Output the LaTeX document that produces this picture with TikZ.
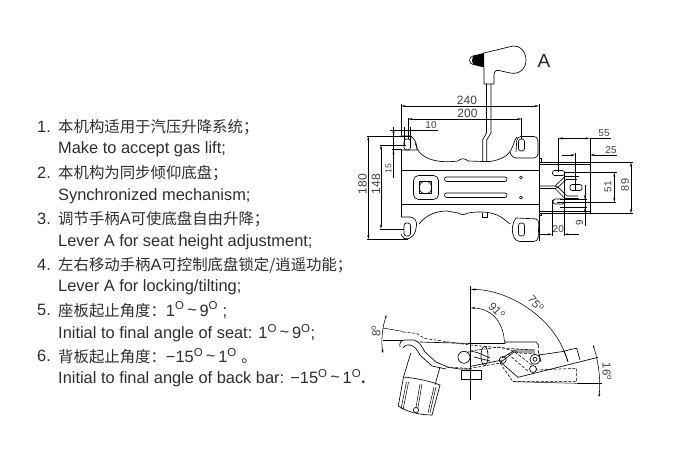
\documentclass[tikz,border=0pt]{standalone}
\usepackage{fontspec}
\setmainfont{Liberation Sans}
\newfontfamily\cjkf{Noto Sans CJK SC}
\usetikzlibrary{arrows.meta}
\newcommand{\zh}[1]{{\cjkf\fontsize{15.4}{17}\selectfont #1}}
\newcommand{\dgr}{\textsuperscript{O}}
\newcommand{\tld}{\,\raisebox{1pt}{\textasciitilde}\,}
\tikzset{
  body/.style={draw=black,line width=0.65pt},
  thin line/.style={draw=black,line width=0.5pt},
  dashline/.style={draw=black,line width=0.55pt,dash pattern=on 3pt off 1.6pt},
  dimline/.style={draw=black,line width=0.55pt,{Stealth[length=4.5pt,width=2pt]}-{Stealth[length=4.5pt,width=2pt]}},
  dimone/.style={draw=black,line width=0.55pt,-{Stealth[length=4.5pt,width=2pt]}},
  txt/.style={anchor=west,inner sep=0pt,text=black!82,font=\fontsize{16.4}{18}\selectfont},
  dimtxt/.style={inner sep=0pt,text=black!75,font=\fontsize{10}{12}\selectfont},
  bigdim/.style={inner sep=0pt,text=black!75,font=\fontsize{12}{14}\selectfont},
  angtxt/.style={inner sep=0pt,text=black!75,font=\fontsize{11.5}{13}\selectfont},
  slot/.style={draw=black,line width=0.65pt,rounded corners=2.2pt}
}
\begin{document}
\begin{tikzpicture}[x=1pt,y=-1pt]
\useasboundingbox (0,0) rectangle (675,454);
% ---------- text list
\node[txt] (n1) at (37,127) {1.};
\node[txt] (t1) at (58,127) {\zh{本机构适用于汽压升降系统；}};
\node[txt] (e1) at (58,149) {Make to accept gas lift;};
\node[txt] (n2) at (37,173) {2.};
\node[txt] (t2) at (58,173) {\zh{本机构为同步倾仰底盘；}};
\node[txt] (e2) at (58,196) {Synchronized mechanism;};
\node[txt] (n3) at (37,219) {3.};
\node[txt] (t3) at (58,219) {\zh{调节手柄}A\zh{可使底盘自由升降；}};
\node[txt] (e3) at (58,242) {Lever A for seat height adjustment;};
\node[txt] (n4) at (37,265) {4.};
\node[txt] (t4) at (58,265) {\zh{左右移动手柄}A\zh{可控制底盘锁定/逍遥功能；}};
\node[txt] (e4) at (58,287) {Lever A for locking/tilting;};
\node[txt] (n5) at (37,310) {5.};
\node[txt] (t5) at (58,310) {\zh{座板起止角度：}1\dgr\tld 9\dgr\ ;};
\node[txt] (e5) at (58,333) {Initial to final angle of seat: 1\dgr\tld 9\dgr;};
\node[txt] (n6) at (37,356) {6.};
\node[txt] (t6) at (58,356) {\zh{背板起止角度：}−15\dgr\tld 1\dgr\ \zh{。}};
\node[txt] (e6) at (58,378) {Initial to final angle of back bar: −15\dgr\tld 1\dgr\textbf{.}};
% ---------- handle
\fill[black] (484,53) -- (474,55.5) .. controls (471.5,58) and (471.5,63) .. (474,65) -- (484,67.5) -- cycle;
\draw[body] (474,55.5) .. controls (468,56.5) and (468,64) .. (474,65);
\draw[body] (484,67.5) -- (484,84) -- (494,84) -- (494,75) .. controls (494,71) and (496,70) .. (499,70.5)
  -- (510,73) .. controls (520,75) and (526,68) .. (526,60) .. controls (526,51) and (519,45) .. (513,46) -- (484,53);
\draw[body] (486.5,84) -- (486.5,133) -- (482.7,140) -- (482.7,162);
\draw[body] (491,84) -- (491,133) -- (486.7,140) -- (486.7,161);
\node[inner sep=0pt,text=black!85,font=\fontsize{19}{21}\selectfont] (A) at (544,61) {A};
% ---------- plan view plate
\draw[body] (401,149) -- (401,217);
\draw[body] (401,170) -- (539,170);
\draw[body] (401,204) -- (539,204);
\draw[body] (539,104) -- (539,136);
\draw[body] (539,136) -- (539,241);
% top-left ear and wing
\draw[body] (401,136) -- (410,136) .. controls (415,138) and (417,144) .. (417,150) -- (401,150);
\draw[body] (415,143) .. controls (417,148) and (418,151) .. (420,153) .. controls (428,161) and (442,163) .. (458,161)
  .. controls (461,158) and (465,158) .. (468,161) -- (482.7,161.5) -- (490,161.5) .. controls (500,160) and (508,156) .. (511,150) .. controls (514,145) and (514,140) .. (517,137);
\draw[body,rounded corners=4pt] (516,152) -- (517,136.5) -- (538,136.5) -- (538,158) -- (512,158) -- (510,152);
% bottom-left ear and wing
\draw[body,rounded corners=3pt] (401,217) -- (413,217) -- (417,222) -- (415,234) -- (408,239.5) -- (403,238) -- (401,234);
\draw[body] (419,224) .. controls (426,215) and (436,211) .. (447,211) -- (458,213) .. controls (461,215) and (465,215) .. (468,213) .. controls (480,211) and (495,211) .. (505,220) -- (510,224);
\draw[body] (482,213) -- (482,217.5) -- (487.5,217.5) -- (487.5,212);
\draw[body,rounded corners=4pt] (516,218) -- (513,222) -- (512,233) -- (516,241.5) -- (538,241.5) -- (539,219) -- (516,218);
% slots
\draw[slot,rounded corners=2.5pt] (404,139) rectangle (410.5,150);
\draw[slot,rounded corners=2.5pt] (404,223) rectangle (410.5,236);
\draw[slot,rounded corners=2.5pt] (518.5,139) rectangle (524.5,151);
\draw[slot,rounded corners=2.5pt] (518.5,223) rectangle (524.5,236);
% square
\draw[body,rounded corners=5pt] (413.5,175.5) rectangle (438.5,199.5);
\draw[body] (419.5,181.5) rectangle (431.5,193.5);
\draw[body] (425.5,187.5) circle[radius=6.3];
\draw[slot] (444.5,177) rectangle (507,181.5);
\draw[slot] (444.5,193) rectangle (507,197.5);
\draw[body] (521,177.5) circle[radius=1.5];
\draw[body] (521,197.5) circle[radius=1.5];
% right end
\draw[body] (539,158) -- (541,158) -- (541,162);
\draw[body] (539,213) -- (541,213) -- (541,215.5) -- (539,215.5);
\draw[thin line] (539,162.3) -- (633,162.3);
\draw[thin line] (539,164.5) -- (590,164.5);
\draw[thin line] (539,213.3) -- (633,213.3);
\draw[thin line] (539,211) -- (590,211);
\draw[body] (539,186) -- (555,186) -- (565,176.5) -- (579,176.5);
\draw[body] (566,179) -- (577,179);
\draw[body] (539,188.5) -- (555,188.5) -- (565,198.5) -- (578.5,198.5);
\draw[body] (555,186) -- (558,187.2) -- (555,188.5);
\draw[body] (558,187.2) -- (567,178.8);
\draw[body] (558,187.2) -- (567,196) -- (578,196);
\draw[slot] (552.5,170.5) rectangle (564.5,175.5);
\draw[slot] (553,199) rectangle (564.5,204);
\draw[slot] (570,184.5) rectangle (582,190.5);
% ---------- plan view dimensions
\draw[thin line] (401,104) -- (401,136);
\draw[thin line] (408,118) -- (408,139);
\draw[thin line] (521.7,118) -- (521.7,139);
\draw[dimline] (401,106) -- (539,106);
\draw[dimline] (408,119) -- (521.7,119);
\node[bigdim] (d240) at (467,100.5) {240};
\node[bigdim] (d200) at (467.5,113) {200};
\draw[thin line] (390,130.5) -- (438,130.5);
\draw[thin line] (404,127) -- (404,146);
\draw[thin line] (410.5,127) -- (410.5,146);
\node[dimtxt] (d10) at (431,125.5) {10};
\draw[thin line] (367,136) -- (412,136);
\draw[thin line] (380,145) -- (406,145);
\draw[thin line] (392,149.5) -- (402,149.5);
\draw[thin line] (367,239.5) -- (408,239.5);
\draw[thin line] (380,229) -- (404,229);
\draw[dimline] (368.3,136) -- (368.3,239.5);
\draw[dimline] (381,145) -- (381,229);
\draw[thin line] (393.5,127) -- (393.5,178.5);
\draw[dimone] (393.5,128) -- (393.5,136);
\draw[dimone] (393.5,158) -- (393.5,149.5);
\node[bigdim,rotate=90] (d180) at (362.5,184) {180};
\node[bigdim,rotate=90] (d148) at (376,184) {148};
\node[inner sep=0pt,text=black!75,font=\fontsize{8.5}{10}\selectfont,rotate=90] (d15) at (388.5,169) {15};
\draw[thin line] (590,138) -- (590,213);
\draw[thin line] (558.3,138) -- (558.3,172);
\draw[thin line] (575.3,153) -- (575.3,190);
\draw[dimline] (558.3,138.3) -- (590,138.3);
\draw[thin line] (590,138.3) -- (611,138.3);
\node[dimtxt] (d55) at (604,132.7) {55};
\draw[dimone] (562,155) -- (575.3,155);
\draw[dimone] (617,155) -- (590,155);
\node[dimtxt] (d25) at (611,150) {25};
\draw[thin line] (565,172.3) -- (617,172.3);
\draw[thin line] (557,202.3) -- (616,202.3);
\draw[dimline] (614.3,172.3) -- (614.3,202.3);
\node[dimtxt,rotate=90] (d51) at (608,187) {51};
\draw[dimline] (631,162.3) -- (631,213.3);
\node[dimtxt,rotate=90,font=\fontsize{11}{13}\selectfont] (d89) at (625,185) {89};
\draw[thin line] (585,185) -- (585,226.5);
\draw[thin line] (560,199.3) -- (587,199.3);
\draw[thin line] (560,207.7) -- (587,207.7);
\draw[dimone] (585,188) -- (585,199.3);
\draw[dimone] (585,222) -- (585,207.7);
\node[dimtxt,rotate=90] (d9) at (579.5,222.5) {9};
\draw[thin line] (552.3,200) -- (552.3,236.5);
\draw[thin line] (564,172) -- (564,236.5);
\draw[dimone] (540,234.3) -- (552.3,234.3);
\draw[dimone] (578.5,234.3) -- (564,234.3);
\node[dimtxt] (d20) at (558.3,229) {20};
% ---------- side view
\draw[thin line] (470.7,286.5) -- (470.7,399.5);
\draw[dimone,{Stealth[length=4.5pt,width=2pt]}-] (470.7,289.5) .. controls (505,289) and (555,315) .. (568,362);
\draw[dimone,{Stealth[length=4.5pt,width=2pt]}-] (470.7,308) .. controls (490,308) and (503,320) .. (504.5,342);
\node[angtxt,rotate=-50] (a75) at (536,303.5) {75\textsuperscript{o}};
\node[angtxt,rotate=-45] (a91) at (497,310.5) {91\textsuperscript{o}};
% 8 degree
\draw[dimone,{Stealth[length=3pt,width=2pt]}-{Stealth[length=3pt,width=2pt]}] (386.5,315) .. controls (382,328) and (381,342) .. (383,353);
\draw[thin line] (383,328) -- (403,331.5);
\draw[thin line] (383,340.7) -- (402,340.7);
\node[angtxt,rotate=90] (a8) at (376,331) {8\textsuperscript{o}};
% seat
\draw[dashline] (403,332) -- (417,333.5) .. controls (420,335) and (422,338) .. (425,338.5) -- (470,345) -- (503,348) -- (533,350);
\draw[body] (420,342) -- (470.7,343.5) -- (505,343.5) -- (505,342) -- (536,342) .. controls (538,343) and (539,345) .. (538.5,348);
\draw[body] (400,347) .. controls (399,343) and (401,340) .. (405,340) -- (414,340) .. controls (420,342) and (422,347) .. (425,352) -- (436,362) -- (449,367.5) -- (460,369) -- (470,369);
\draw[body] (403,348) .. controls (404,345) and (406,345) .. (410,345) .. controls (415,346) and (417,350) .. (420,355) -- (432,366) -- (446,369);
\draw[dashline] (446,367) -- (470,368.5) -- (500,363);
% cylinder
\draw[body] (410.7,353.3) -- (403.5,377);
\draw[body] (440,367) -- (435,385);
\draw[body] (403.5,377) .. controls (415,378) and (430,381) .. (440,385) -- (432,415) .. controls (420,415) and (407,412) .. (398.3,406) -- cycle;
\draw[thin line] (406.5,382) -- (401,409);
\draw[thin line] (408.5,382) -- (403,410);
\draw[thin line] (420,384) -- (416,407.5);
\draw[thin line] (422,384) -- (418,407.5);
\draw[thin line] (434,387) -- (428,413);
\draw[thin line] (436,387) -- (430,413);
\draw[body] (416,410) circle[radius=2.6];
\draw[body] (461,370) rectangle (481,379.5);
% mechanism
\draw[body] (464,357.3) circle[radius=6];
\draw[body] (484.5,356) ellipse[x radius=3.5,y radius=9.5];
\draw[body] (468,352) .. controls (475,350) and (480,354) .. (490,358);
\draw[body] (474,357) -- (490,361);
\draw[body] (470,366.5) -- (502,360);
\draw[body] (502,358) -- (515,350) -- (535,350);
\draw[body] (501,362) -- (514,352) -- (535,352);
\draw[dashline] (470,351) -- (500,347) -- (520,353) -- (535,354);
\draw[body] (502.7,360) circle[radius=3.5];
\draw[body] (535,359.3) circle[radius=5];
\draw[body] (535,359.3) circle[radius=2];
\draw[body] (533,369) circle[radius=3.5];
\draw[body] (538,350) -- (541,362);
\draw[dashline] (515,352) -- (533,366);
\draw[dashline] (508,354) -- (529,372);
% back bar
\draw[body] (500,361.7) -- (518,377.3) -- (598,357.3);
\draw[body] (539,355) -- (563,351.5) .. controls (568,350) and (572,349) .. (576.7,348.3) -- (580,360);
\draw[body] (564,351) -- (568,361.5);
\draw[dashline] (500,363) -- (513,381.7) -- (576.7,381.7) -- (576.7,368.3) -- (536,370);
\draw[thin line] (576.7,383.3) -- (602,383.3);
\draw[thin line] (513,381.7) -- (576.7,383.3);
\draw[dimone,{Stealth[length=3pt,width=2pt]}-{Stealth[length=3pt,width=2pt]}] (593,345) .. controls (598,360) and (601,378) .. (599,397);
\node[angtxt,rotate=-90] (a16) at (607,371.5) {16\textsuperscript{o}};
\end{tikzpicture}
\end{document}
